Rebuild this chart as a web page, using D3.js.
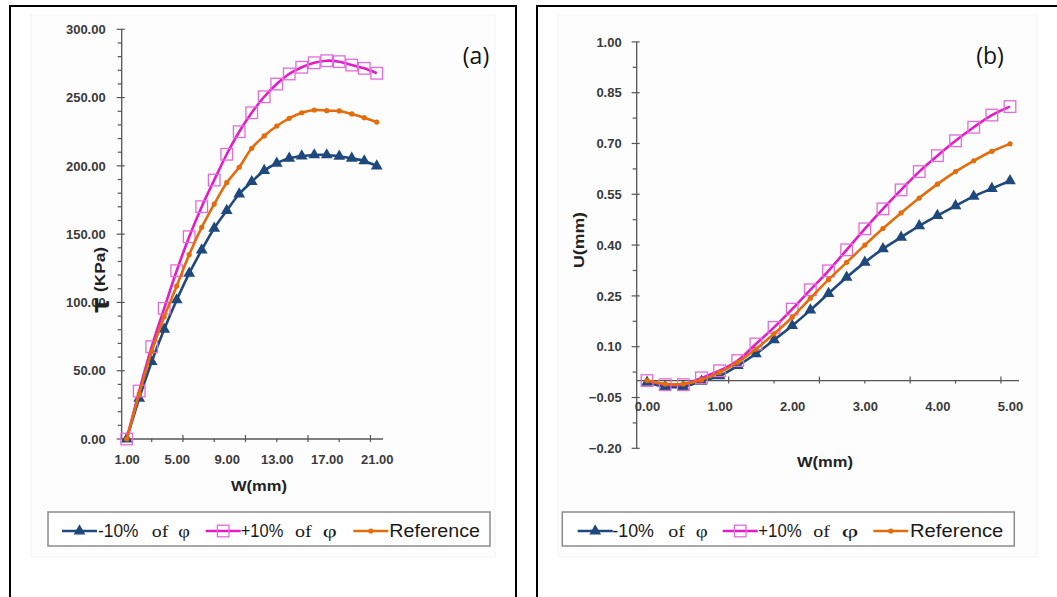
<!DOCTYPE html>
<html><head><meta charset="utf-8">
<script src="https://cdn.jsdelivr.net/npm/d3@7"></script>
<style>body{margin:0;background:#fff;}svg{display:block}</style>
</head><body>
<svg id="c" width="1057" height="597"></svg>
<script>
// ---------- data ----------
const seriesNames = ["-10% of φ", "+10% of φ", "Reference"];
const seriesColors = ["#1f497d", "#e31bc9", "#e46c0a"];

// panel (a): tau vs W
const wA = [1,2,3,4,5,6,7,8,9,10,11,12,13,14,15,16,17,18,19,20,21];
const tauMinus = [0,29.8,56.6,80.3,101.8,121.3,138.4,154.3,167.2,179.4,188.4,196.5,201.9,205.5,207.2,208,208,207,205.5,203.6,199.9];
const tauPlus  = [0,35.1,67.6,95.7,123.2,148.1,170.1,189.6,208.5,225,238.9,250.6,259.9,267.3,272.2,275.5,277,276.3,273.8,271.4,267.8];
const tauRef   = [0,33,64,89.5,112,135,155,172,187.7,199,212.9,221.9,229.2,234.8,238.9,240.9,240.4,240.2,238,235.3,232.1];
const xLabelsA = [1,5,9,13,17,21];
const xMajorA = [5.5,10.5,15.5,20.5];
const xMinorA = [3,8,13,18];
const yLabelsA = [0,50,100,150,200,250,300];

// panel (b): U vs W
const wB = [0,0.25,0.5,0.75,1,1.25,1.5,1.75,2,2.25,2.5,2.75,3,3.25,3.5,3.75,4,4.25,4.5,4.75,5];
const uMinus = [-0.005,-0.018,-0.018,-0.002,0.014,0.044,0.079,0.12,0.162,0.208,0.257,0.305,0.349,0.389,0.423,0.457,0.487,0.516,0.544,0.567,0.590];
const uPlus  = [0,-0.012,-0.012,0.008,0.029,0.059,0.108,0.157,0.211,0.268,0.324,0.386,0.448,0.507,0.563,0.617,0.664,0.708,0.748,0.784,0.809];
const uRef   = [0,-0.01,-0.01,0.002,0.024,0.054,0.093,0.138,0.187,0.243,0.298,0.349,0.400,0.449,0.495,0.539,0.580,0.617,0.649,0.677,0.699];
const xLabelsB = [0,1,2,3,4,5];
const xMajorB = [1.125,2.375,3.625,4.875];
const xMinorB = [0.5,1.75,3.0,4.25];
const yLabelsB = [-0.2,-0.05,0.1,0.25,0.4,0.55,0.7,0.85,1.0];
const yMinorB = [-0.125,0.025,0.175,0.325,0.475,0.625,0.775,0.925];

// ---------- drawing ----------
const svg = d3.select("#c");
const SANS = "'Liberation Sans', Arial, sans-serif";
const SERIF = "'Liberation Serif', 'Times New Roman', serif";
const fmt = d3.format(".2f");

// outer frames
svg.append("rect").attr("x",10).attr("y",6).attr("width",506).attr("height",620)
  .attr("fill","none").attr("stroke","#000").attr("stroke-width",2);
svg.append("rect").attr("x",537).attr("y",6).attr("width",560).attr("height",620)
  .attr("fill","none").attr("stroke","#000").attr("stroke-width",2);
// faint chart areas
svg.append("rect").attr("x",31).attr("y",15).attr("width",464).attr("height",542)
  .attr("fill","#fdfdfd").attr("stroke","#f3f3f3");
svg.append("rect").attr("x",558).attr("y",15).attr("width",479).attr("height",542)
  .attr("fill","#fdfdfd").attr("stroke","#f3f3f3");

function panel(cfg){
  const g = svg.append("g");
  const x = d3.scaleLinear().domain(cfg.xDom).range(cfg.xRange);
  const y = d3.scaleLinear().domain(cfg.yDom).range(cfg.yRange);
  const axisX = x.range()[0];
  const axisY = y(cfg.xCross);
  const axisCol = "#555";

  // y axis line
  g.append("line").attr("x1",axisX).attr("x2",axisX).attr("y1",y.range()[0]).attr("y2",y.range()[1])
    .attr("stroke",axisCol).attr("stroke-width",1.3);
  // y minor ticks
  g.selectAll(".ymin").data(cfg.yMinor).join("line")
    .attr("x1",axisX-4).attr("x2",axisX).attr("y1",d=>y(d)).attr("y2",d=>y(d))
    .attr("stroke",axisCol).attr("stroke-width",1.2);
  g.selectAll(".ymaj").data(cfg.yLabels).join("line")
    .attr("x1",axisX-5).attr("x2",axisX+3).attr("y1",d=>y(d)).attr("y2",d=>y(d))
    .attr("stroke",axisCol).attr("stroke-width",1.2);
  // y labels via axis
  const ya = g.append("g").attr("transform",`translate(${axisX},0)`)
    .call(d3.axisLeft(y).tickValues(cfg.yLabels).tickSize(0).tickPadding(cfg.yPad).tickFormat(fmt));
  ya.select(".domain").remove();
  ya.selectAll("text").attr("font-family",SANS).attr("font-size",13).attr("font-weight","bold").attr("fill","#3a3a3a");

  // x axis line
  g.append("line").attr("x1",x.range()[0]).attr("x2",x.range()[1]).attr("y1",axisY).attr("y2",axisY)
    .attr("stroke",axisCol).attr("stroke-width",1.3);
  g.selectAll(".xmaj").data(cfg.xMajor).join("line")
    .attr("x1",d=>x(d)).attr("x2",d=>x(d)).attr("y1",axisY-4).attr("y2",axisY+3)
    .attr("stroke",axisCol).attr("stroke-width",1.2);
  g.selectAll(".xmin").data(cfg.xMinor).join("line")
    .attr("x1",d=>x(d)).attr("x2",d=>x(d)).attr("y1",axisY).attr("y2",axisY+3)
    .attr("stroke",axisCol).attr("stroke-width",1.2);
  const xa = g.append("g").attr("transform",`translate(0,${axisY})`)
    .call(d3.axisBottom(x).tickValues(cfg.xLabels).tickSize(0).tickPadding(cfg.xPad).tickFormat(fmt));
  xa.select(".domain").remove();
  xa.selectAll("text").attr("font-family",SANS).attr("font-size",13).attr("font-weight","bold").attr("fill","#3a3a3a");

  // series
  const line = d3.line().curve(d3.curveCatmullRom.alpha(0.5)).x((d,i)=>x(cfg.xs[i])).y(d=>y(d));
  cfg.series.forEach((vals,si)=>{
    const col = seriesColors[si];
    g.append("path").attr("d",line(vals)).attr("fill","none").attr("stroke",col).attr("stroke-width",2.6);
    const pts = vals.map((v,i)=>[x(cfg.xs[i]),y(v)]);
    if(si===0){
      g.selectAll(null).data(pts).join("path")
        .attr("d",d3.symbol(d3.symbolTriangle,60)())
        .attr("transform",d=>`translate(${d[0]},${d[1]})`).attr("fill",col);
    } else if(si===1){
      g.selectAll(null).data(pts).join("rect")
        .attr("x",d=>d[0]-5.8).attr("y",d=>d[1]-5.8).attr("width",11.6).attr("height",11.6)
        .attr("fill","none").attr("stroke","#e36bd8").attr("stroke-width",1.3);
    } else {
      g.selectAll(null).data(pts).join("circle")
        .attr("cx",d=>d[0]).attr("cy",d=>d[1]).attr("r",2.6).attr("fill",col);
    }
  });

  // x title
  g.append("text").attr("x",cfg.xTitle[0]).attr("y",cfg.xTitle[1]).attr("text-anchor","middle")
    .attr("font-family",SANS).attr("font-size",15).attr("font-weight","bold").attr("fill","#222")
    .attr("textLength",56).attr("lengthAdjust","spacingAndGlyphs").text("W(mm)");

  // panel letter
  g.append("text").attr("x",cfg.letter[0]).attr("y",cfg.letter[1]).attr("text-anchor","middle")
    .attr("font-family","'Open Sans', 'Liberation Sans', sans-serif").attr("font-size",23).attr("fill","#111")
    .text(cfg.letter[2]);

  // legend
  const L = cfg.legend;
  g.append("rect").attr("x",L.box[0]).attr("y",L.box[1]).attr("width",L.box[2]).attr("height",L.box[3])
    .attr("fill","#fff").attr("stroke","#8a8a8a").attr("stroke-width",1.5);
  const ly = L.lineY, ty = L.textY;
  seriesNames.forEach((name,si)=>{
    const it = L.items[si];
    const col = seriesColors[si];
    g.append("line").attr("x1",it.s).attr("x2",it.s+35).attr("y1",ly).attr("y2",ly)
      .attr("stroke",col).attr("stroke-width",2.6);
    const cx = it.s+17.5;
    if(si===0){
      g.append("path").attr("d",d3.symbol(d3.symbolTriangle,60)()).attr("transform",`translate(${cx},${ly})`).attr("fill",col);
    } else if(si===1){
      g.append("rect").attr("x",cx-5.8).attr("y",ly-5.8).attr("width",11.6).attr("height",11.6)
        .attr("fill","none").attr("stroke","#e36bd8").attr("stroke-width",1.3);
    } else {
      g.append("circle").attr("cx",cx).attr("cy",ly).attr("r",2.6).attr("fill",col);
    }
    const parts = name.split(" ");
    const fonts = [SANS, SERIF, SERIF];
    parts.forEach((p,pi)=>{
      const span = it.t[pi];
      g.append("text").attr("x",span[0]).attr("y",ty)
        .attr("font-family",fonts[pi]).attr("font-size",17.5).attr("fill","#1a1a1a")
        .attr("textLength",span[1]-span[0]).attr("lengthAdjust","spacingAndGlyphs").text(p);
    });
  });
  return {x,y,g};
}

const pA = panel({
  xs: wA, series:[tauMinus,tauPlus,tauRef],
  xDom:[0.6,21.5], xRange:[121.7,383], yDom:[0,300], yRange:[439,29.3], xCross:0,
  yLabels:yLabelsA, yMinor:d3.range(0,301,10).filter(v=>v%50!==0), yPad:16,
  xLabels:xLabelsA, xMajor:xMajorA, xMinor:xMinorA, xPad:16,
  xTitle:[259,491], letter:[476,64,"(a)"],
  legend:{box:[48,512,442,34], lineY:531, textY:537,
    items:[{s:62,t:[[98,138.5],[151.7,168.3],[178.3,190]]},
           {s:205.7,t:[[240.7,283.3],[295,311.7],[322.7,336.7]]},
           {s:353.3,t:[[389.3,480]]}]}
});
// tau title (rotated): large tau then superscript-like (KPa)
pA.g.append("text").attr("transform","translate(109,313) rotate(-90)")
  .attr("font-family","'DejaVu Sans', sans-serif").attr("font-size",24).attr("font-weight","bold")
  .attr("fill","#222").text("τ");
pA.g.append("text").attr("transform","translate(105,292) rotate(-90)")
  .attr("font-family",SANS).attr("font-size",15).attr("font-weight","bold").attr("fill","#222")
  .attr("textLength",45).attr("lengthAdjust","spacingAndGlyphs").text("(KPa)");

const pB = panel({
  xs: wB, series:[uMinus,uPlus,uRef],
  xDom:[-0.142,5.124], xRange:[636.7,1019], yDom:[-0.2,1.0], yRange:[448.3,41.9], xCross:0,
  yLabels:yLabelsB, yMinor:yMinorB, yPad:15,
  xLabels:xLabelsB, xMajor:xMajorB, xMinor:xMinorB, xPad:21,
  xTitle:[825,467], letter:[990,64,"(b)"],
  legend:{box:[562.3,512,452,34], lineY:531, textY:537,
    items:[{s:577.7,t:[[612.3,654],[668.3,685],[695.7,707.7]]},
           {s:722.7,t:[[758.3,801.7],[813.3,830],[841.7,858.3]]},
           {s:873.3,t:[[910,1003.3]]}]}
});
pB.g.append("text").attr("transform","translate(584,240) rotate(-90)").attr("text-anchor","middle")
  .attr("font-family",SANS).attr("font-size",15).attr("font-weight","bold").attr("fill","#222")
  .attr("textLength",56).attr("lengthAdjust","spacingAndGlyphs").text("U(mm)");
</script>
</body></html>
